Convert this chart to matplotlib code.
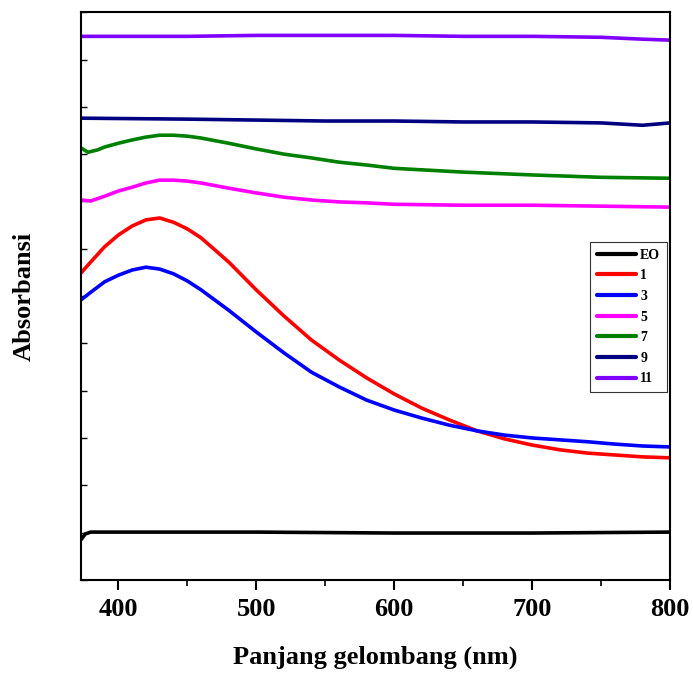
import numpy as np
import matplotlib
matplotlib.use("Agg")
import matplotlib.pyplot as plt
from matplotlib.ticker import MultipleLocator, NullFormatter

plt.rcParams['font.family'] = ['Liberation Serif', 'DejaVu Serif']
plt.rcParams['font.weight'] = 'bold'

# Wavelength grids (nm)
wl = [373, 380, 390, 400, 410, 420, 430, 440, 450, 460, 480, 500, 520, 540,
      560, 580, 600, 620, 640, 660, 680, 700, 720, 740, 760, 780, 800]
wl_flat = [373, 450, 500, 550, 600, 650, 700, 750, 780, 800]
wl_eo = [373, 376, 380, 500, 600, 700, 800]
wl_5 = [373, 380, 390, 400, 410, 420, 430, 440, 450, 460, 480, 500, 520, 540,
        560, 580, 600, 650, 700, 750, 800]
wl_7 = [373, 378, 385, 390, 400, 410, 420, 430, 440, 450, 460, 480, 500, 520,
        540, 560, 580, 600, 650, 700, 750, 800]

# Absorbance series
abs_eo = [0.085, 0.097, 0.101, 0.101, 0.099, 0.099, 0.101]
abs_1 = [0.649, 0.672, 0.704, 0.729, 0.748, 0.761, 0.765, 0.756, 0.742, 0.723,
         0.672, 0.613, 0.558, 0.507, 0.465, 0.427, 0.393, 0.363, 0.338, 0.315,
         0.298, 0.285, 0.275, 0.268, 0.264, 0.260, 0.258]
abs_3 = [0.592, 0.608, 0.630, 0.644, 0.655, 0.661, 0.657, 0.647, 0.632, 0.613,
         0.570, 0.524, 0.480, 0.439, 0.408, 0.380, 0.359, 0.342, 0.327, 0.315,
         0.306, 0.300, 0.296, 0.292, 0.287, 0.283, 0.281]
abs_5 = [0.803, 0.801, 0.811, 0.822, 0.830, 0.839, 0.845, 0.845, 0.843, 0.839,
         0.828, 0.818, 0.809, 0.803, 0.799, 0.797, 0.794, 0.792, 0.792, 0.790,
         0.788]
abs_7 = [0.913, 0.904, 0.909, 0.915, 0.923, 0.930, 0.936, 0.940, 0.940, 0.938,
         0.934, 0.923, 0.911, 0.900, 0.892, 0.883, 0.877, 0.870, 0.862, 0.856,
         0.851, 0.849]
abs_9 = [0.976, 0.974, 0.972, 0.970, 0.970, 0.968, 0.968, 0.966, 0.961, 0.966]
abs_11 = [1.149, 1.149, 1.151, 1.151, 1.151, 1.149, 1.149, 1.147, 1.143, 1.141]

labels = ['EO', '1', '3', '5', '7', '9', '11']
colors = ['black', 'red', 'blue', 'magenta', 'green', 'navy', '#8000FF']

series = [(wl_eo, abs_eo), (wl, abs_1), (wl, abs_3), (wl_5, abs_5),
          (wl_7, abs_7), (wl_flat, abs_9), (wl_flat, abs_11)]

fig = plt.figure(figsize=(6.93, 6.79), dpi=100)
ax = fig.add_axes([0.117, 0.146, 0.850, 0.836])

for (x, y), lab, c in zip(series, labels, colors):
    ax.plot(x, y, color=c, lw=2.6, label=lab, solid_capstyle='round')

ax.set_xlim(373, 800)
ax.set_ylim(0, 1.2)

ax.xaxis.set_major_locator(MultipleLocator(100))
ax.xaxis.set_minor_locator(MultipleLocator(50))
ax.yaxis.set_major_locator(MultipleLocator(0.1))
ax.yaxis.set_major_formatter(NullFormatter())

ax.tick_params(axis='x', which='major', direction='out', length=7, width=1.5,
               labelsize=19, pad=6)
ax.tick_params(axis='x', which='minor', direction='out', length=4, width=1.2)
ax.tick_params(axis='y', which='major', direction='in', length=4, width=1.0)
for lab in ax.get_xticklabels():
    lab.set_fontweight('bold')

for sp in ax.spines.values():
    sp.set_linewidth(1.5)

ax.set_xlabel('Panjang gelombang (nm)', fontsize=19, fontweight='bold', labelpad=18)
ax.set_ylabel('Absorbansi', fontsize=19, fontweight='bold')
ax.yaxis.set_label_coords(-0.077, 0.5)

leg = ax.legend(loc='center right', bbox_to_anchor=(0.995, 0.463),
                borderaxespad=0.0,
                prop={'size': 10, 'weight': 'bold'}, frameon=True,
                fancybox=False, edgecolor='black', handlelength=2.8,
                handletextpad=0.3, labelspacing=0.55, borderpad=0.5)
leg.get_frame().set_linewidth(0.8)
for line in leg.get_lines():
    line.set_linewidth(3)

fig.savefig('out.png', dpi=100)
